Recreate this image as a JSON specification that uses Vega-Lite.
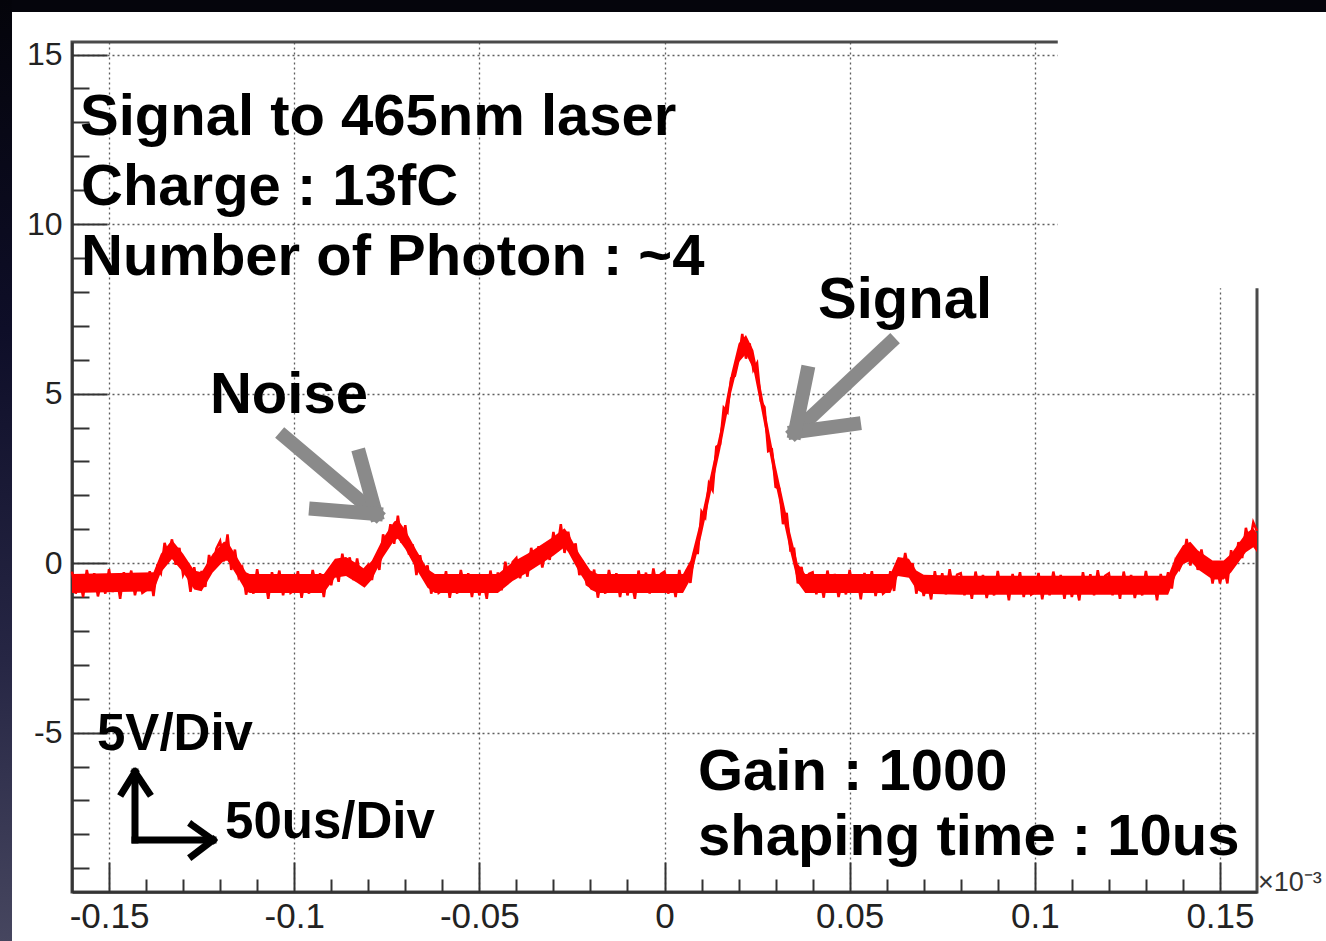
{
  "$schema": "https://vega.github.io/schema/vega-lite/v6.json",
  "width": 1185,
  "height": 850,
  "autosize": {"type": "none"},
  "padding": {"left": 72, "top": 42, "right": 69, "bottom": 49},
  "background": "#ffffff",
  "config": {
    "view": {"stroke": "#4a4a4a", "strokeWidth": 3},
    "text": {"font": "Liberation Sans"}
  },
  "datasets": {
    "wave": [
      {"t":-0.160,"v":-0.25},{"t":-0.159,"v":-0.90},{"t":-0.158,"v":-0.40},{"t":-0.157,"v":-1.00},{"t":-0.156,"v":-0.20},
      {"t":-0.155,"v":-0.75},{"t":-0.154,"v":-0.30},{"t":-0.153,"v":-0.98},{"t":-0.152,"v":-0.50},{"t":-0.151,"v":-0.90},
      {"t":-0.150,"v":-0.18},{"t":-0.149,"v":-0.85},{"t":-0.148,"v":-0.35},{"t":-0.147,"v":-1.05},{"t":-0.146,"v":-0.27},
      {"t":-0.145,"v":-0.70},{"t":-0.144,"v":-0.22},{"t":-0.143,"v":-0.95},{"t":-0.142,"v":-0.45},{"t":-0.141,"v":-0.88},
      {"t":-0.140,"v":-0.80},{"t":-0.139,"v":-0.24},{"t":-0.138,"v":-0.97},{"t":-0.137,"v":-0.12},{"t":-0.136,"v":-0.30},
      {"t":-0.135,"v":0.60},{"t":-0.134,"v":0.23},{"t":-0.133,"v":0.70},{"t":-0.132,"v":-0.05},{"t":-0.131,"v":0.45},
      {"t":-0.130,"v":-0.35},{"t":-0.129,"v":-0.10},{"t":-0.128,"v":-0.85},{"t":-0.127,"v":-0.12},{"t":-0.126,"v":-0.77},
      {"t":-0.125,"v":-0.23},{"t":-0.124,"v":-0.70},{"t":-0.123,"v":0.24},{"t":-0.122,"v":-0.15},{"t":-0.121,"v":0.43},
      {"t":-0.120,"v":0.65},{"t":-0.119,"v":0.05},{"t":-0.118,"v":0.85},{"t":-0.117,"v":-0.20},{"t":-0.116,"v":0.40},
      {"t":-0.115,"v":-0.40},{"t":-0.114,"v":-0.15},{"t":-0.113,"v":-0.93},{"t":-0.112,"v":-0.50},{"t":-0.111,"v":-0.90},
      {"t":-0.110,"v":-0.18},{"t":-0.109,"v":-0.85},{"t":-0.108,"v":-0.35},{"t":-0.107,"v":-1.05},{"t":-0.106,"v":-0.27},
      {"t":-0.105,"v":-0.70},{"t":-0.104,"v":-0.22},{"t":-0.103,"v":-0.95},{"t":-0.102,"v":-0.45},{"t":-0.101,"v":-0.88},
      {"t":-0.100,"v":-0.80},{"t":-0.099,"v":-0.24},{"t":-0.098,"v":-1.02},{"t":-0.097,"v":-0.42},{"t":-0.096,"v":-0.90},
      {"t":-0.095,"v":-0.20},{"t":-0.094,"v":-0.72},{"t":-0.093,"v":-0.30},{"t":-0.092,"v":-1.00},{"t":-0.091,"v":-0.25},
      {"t":-0.090,"v":-0.65},{"t":-0.089,"v":-0.05},{"t":-0.088,"v":-0.55},{"t":-0.087,"v":0.28},{"t":-0.086,"v":-0.32},
      {"t":-0.085,"v":0.17},{"t":-0.084,"v":-0.50},{"t":-0.083,"v":0.14},{"t":-0.082,"v":-0.55},{"t":-0.081,"v":-0.17},
      {"t":-0.080,"v":-0.05},{"t":-0.079,"v":-0.50},{"t":-0.078,"v":0.20},{"t":-0.077,"v":-0.20},{"t":-0.076,"v":0.85},
      {"t":-0.075,"v":0.50},{"t":-0.074,"v":1.15},{"t":-0.073,"v":0.57},{"t":-0.072,"v":1.40},{"t":-0.071,"v":0.60},
      {"t":-0.070,"v":1.12},{"t":-0.069,"v":0.25},{"t":-0.068,"v":0.55},{"t":-0.067,"v":-0.35},{"t":-0.066,"v":0.23},
      {"t":-0.065,"v":-0.40},{"t":-0.064,"v":-0.07},{"t":-0.063,"v":-0.90},{"t":-0.062,"v":-0.45},{"t":-0.061,"v":-0.88},
      {"t":-0.060,"v":-0.80},{"t":-0.059,"v":-0.24},{"t":-0.058,"v":-1.02},{"t":-0.057,"v":-0.42},{"t":-0.056,"v":-0.90},
      {"t":-0.055,"v":-0.20},{"t":-0.054,"v":-0.72},{"t":-0.053,"v":-0.30},{"t":-0.052,"v":-1.00},{"t":-0.051,"v":-0.35},
      {"t":-0.050,"v":-0.95},{"t":-0.049,"v":-0.50},{"t":-0.048,"v":-1.05},{"t":-0.047,"v":-0.22},{"t":-0.046,"v":-0.82},
      {"t":-0.045,"v":-0.28},{"t":-0.044,"v":-0.80},{"t":-0.043,"v":0.04},{"t":-0.042,"v":-0.45},{"t":-0.041,"v":0.03},
      {"t":-0.040,"v":0.15},{"t":-0.039,"v":-0.45},{"t":-0.038,"v":0.10},{"t":-0.037,"v":-0.40},{"t":-0.036,"v":0.45},
      {"t":-0.035,"v":-0.05},{"t":-0.034,"v":0.50},{"t":-0.033,"v":-0.13},{"t":-0.032,"v":0.40},{"t":-0.031,"v":0.10},
      {"t":-0.030,"v":0.92},{"t":-0.029,"v":0.35},{"t":-0.028,"v":1.15},{"t":-0.027,"v":0.30},{"t":-0.026,"v":0.93},
      {"t":-0.025,"v":0.30},{"t":-0.024,"v":0.58},{"t":-0.023,"v":-0.35},{"t":-0.022,"v":-0.05},{"t":-0.021,"v":-0.63},
      {"t":-0.020,"v":-0.70},{"t":-0.019,"v":-0.19},{"t":-0.018,"v":-1.02},{"t":-0.017,"v":-0.42},{"t":-0.016,"v":-0.90},
      {"t":-0.015,"v":-0.20},{"t":-0.014,"v":-0.72},{"t":-0.013,"v":-0.30},{"t":-0.012,"v":-1.00},{"t":-0.011,"v":-0.35},
      {"t":-0.010,"v":-0.95},{"t":-0.009,"v":-0.50},{"t":-0.008,"v":-1.05},{"t":-0.007,"v":-0.22},{"t":-0.006,"v":-0.82},
      {"t":-0.005,"v":-0.28},{"t":-0.004,"v":-0.90},{"t":-0.003,"v":-0.16},{"t":-0.002,"v":-0.75},{"t":-0.001,"v":-0.32},
      {"t":0.000,"v":-0.25},{"t":0.001,"v":-0.90},{"t":0.002,"v":-0.40},{"t":0.003,"v":-1.00},{"t":0.004,"v":-0.20},
      {"t":0.005,"v":-0.75},{"t":0.006,"v":-0.20},{"t":0.007,"v":-0.58},{"t":0.008,"v":0.30},{"t":0.009,"v":0.30},
      {"t":0.010,"v":1.52},{"t":0.011,"v":1.35},{"t":0.012,"v":2.35},{"t":0.013,"v":2.15},{"t":0.014,"v":3.43},
      {"t":0.015,"v":3.50},{"t":0.016,"v":4.58},{"t":0.017,"v":4.45},{"t":0.018,"v":5.45},{"t":0.019,"v":5.52},
      {"t":0.020,"v":6.00},{"t":0.021,"v":6.76},{"t":0.022,"v":6.03},{"t":0.023,"v":6.48},{"t":0.024,"v":5.70},
      {"t":0.025,"v":5.90},{"t":0.026,"v":4.78},{"t":0.027,"v":4.60},{"t":0.028,"v":3.30},{"t":0.029,"v":3.35},
      {"t":0.030,"v":2.25},{"t":0.031,"v":2.20},{"t":0.032,"v":1.15},{"t":0.033,"v":1.48},{"t":0.034,"v":0.38},
      {"t":0.035,"v":0.42},{"t":0.036,"v":-0.60},{"t":0.037,"v":-0.11},{"t":0.038,"v":-0.75},{"t":0.039,"v":-0.32},
      {"t":0.040,"v":-0.27},{"t":0.041,"v":-0.92},{"t":0.042,"v":-0.42},{"t":0.043,"v":-1.02},{"t":0.044,"v":-0.22},
      {"t":0.045,"v":-0.77},{"t":0.046,"v":-0.32},{"t":0.047,"v":-1.00},{"t":0.048,"v":-0.52},{"t":0.049,"v":-0.92},
      {"t":0.050,"v":-0.20},{"t":0.051,"v":-0.87},{"t":0.052,"v":-0.37},{"t":0.053,"v":-1.07},{"t":0.054,"v":-0.29},
      {"t":0.055,"v":-0.72},{"t":0.056,"v":-0.24},{"t":0.057,"v":-0.97},{"t":0.058,"v":-0.47},{"t":0.059,"v":-0.90},
      {"t":0.060,"v":-0.80},{"t":0.061,"v":-0.24},{"t":0.062,"v":-0.82},{"t":0.063,"v":0.08},{"t":0.064,"v":-0.35},
      {"t":0.065,"v":0.30},{"t":0.066,"v":-0.27},{"t":0.067,"v":0.00},{"t":0.068,"v":-0.90},{"t":0.069,"v":-0.37},
      {"t":0.070,"v":-0.97},{"t":0.071,"v":-0.52},{"t":0.072,"v":-1.07},{"t":0.073,"v":-0.24},{"t":0.074,"v":-0.84},
      {"t":0.075,"v":-0.30},{"t":0.076,"v":-0.92},{"t":0.077,"v":-0.18},{"t":0.078,"v":-0.77},{"t":0.079,"v":-0.34},
      {"t":0.080,"v":-0.30},{"t":0.081,"v":-0.95},{"t":0.082,"v":-0.45},{"t":0.083,"v":-1.05},{"t":0.084,"v":-0.25},
      {"t":0.085,"v":-0.80},{"t":0.086,"v":-0.35},{"t":0.087,"v":-1.03},{"t":0.088,"v":-0.55},{"t":0.089,"v":-0.95},
      {"t":0.090,"v":-0.23},{"t":0.091,"v":-0.90},{"t":0.092,"v":-0.40},{"t":0.093,"v":-1.10},{"t":0.094,"v":-0.32},
      {"t":0.095,"v":-0.75},{"t":0.096,"v":-0.27},{"t":0.097,"v":-1.00},{"t":0.098,"v":-0.50},{"t":0.099,"v":-0.93},
      {"t":0.100,"v":-0.85},{"t":0.101,"v":-0.29},{"t":0.102,"v":-1.07},{"t":0.103,"v":-0.47},{"t":0.104,"v":-0.95},
      {"t":0.105,"v":-0.25},{"t":0.106,"v":-0.77},{"t":0.107,"v":-0.35},{"t":0.108,"v":-1.05},{"t":0.109,"v":-0.40},
      {"t":0.110,"v":-1.00},{"t":0.111,"v":-0.55},{"t":0.112,"v":-1.10},{"t":0.113,"v":-0.27},{"t":0.114,"v":-0.87},
      {"t":0.115,"v":-0.33},{"t":0.116,"v":-0.95},{"t":0.117,"v":-0.21},{"t":0.118,"v":-0.80},{"t":0.119,"v":-0.37},
      {"t":0.120,"v":-0.30},{"t":0.121,"v":-0.95},{"t":0.122,"v":-0.45},{"t":0.123,"v":-1.05},{"t":0.124,"v":-0.25},
      {"t":0.125,"v":-0.80},{"t":0.126,"v":-0.35},{"t":0.127,"v":-1.03},{"t":0.128,"v":-0.55},{"t":0.129,"v":-0.95},
      {"t":0.130,"v":-0.23},{"t":0.131,"v":-0.90},{"t":0.132,"v":-0.40},{"t":0.133,"v":-1.10},{"t":0.134,"v":-0.32},
      {"t":0.135,"v":-0.75},{"t":0.136,"v":-0.27},{"t":0.137,"v":-0.75},{"t":0.138,"v":0.05},{"t":0.139,"v":-0.18},
      {"t":0.140,"v":0.05},{"t":0.141,"v":0.71},{"t":0.142,"v":-0.07},{"t":0.143,"v":0.43},{"t":0.144,"v":-0.20},
      {"t":0.145,"v":0.40},{"t":0.146,"v":-0.22},{"t":0.147,"v":0.10},{"t":0.148,"v":-0.60},{"t":0.149,"v":0.00},
      {"t":0.150,"v":-0.60},{"t":0.151,"v":-0.10},{"t":0.152,"v":-0.60},{"t":0.153,"v":0.38},{"t":0.154,"v":-0.07},
      {"t":0.155,"v":0.62},{"t":0.156,"v":0.15},{"t":0.157,"v":1.04},{"t":0.158,"v":0.55},{"t":0.159,"v":1.20},
      {"t":0.160,"v":0.95}
    ],
    "band": [
      {"t":-0.160,"lo":-0.88,"hi":-0.32},{"t":-0.138,"lo":-0.83,"hi":-0.27},{"t":-0.136,"lo":-0.28,"hi":0.28},
      {"t":-0.133,"lo":0.12,"hi":0.68},{"t":-0.130,"lo":-0.28,"hi":0.28},{"t":-0.127,"lo":-0.78,"hi":-0.22},
      {"t":-0.125,"lo":-0.83,"hi":-0.27},{"t":-0.122,"lo":-0.28,"hi":0.28},{"t":-0.119,"lo":0.07,"hi":0.63},
      {"t":-0.118,"lo":0.07,"hi":0.63},{"t":-0.116,"lo":-0.28,"hi":0.28},{"t":-0.113,"lo":-0.83,"hi":-0.27},
      {"t":-0.112,"lo":-0.88,"hi":-0.32},{"t":-0.092,"lo":-0.88,"hi":-0.32},{"t":-0.089,"lo":-0.43,"hi":0.13},
      {"t":-0.086,"lo":-0.38,"hi":0.18},{"t":-0.083,"lo":-0.58,"hi":-0.02},{"t":-0.081,"lo":-0.73,"hi":-0.17},
      {"t":-0.079,"lo":-0.48,"hi":0.08},{"t":-0.076,"lo":0.17,"hi":0.73},{"t":-0.073,"lo":0.67,"hi":1.23},
      {"t":-0.072,"lo":0.72,"hi":1.28},{"t":-0.070,"lo":0.42,"hi":0.98},{"t":-0.067,"lo":-0.18,"hi":0.38},
      {"t":-0.064,"lo":-0.73,"hi":-0.17},{"t":-0.062,"lo":-0.88,"hi":-0.32},{"t":-0.045,"lo":-0.88,"hi":-0.32},
      {"t":-0.041,"lo":-0.53,"hi":0.03},{"t":-0.037,"lo":-0.28,"hi":0.28},{"t":-0.030,"lo":0.22,"hi":0.78},
      {"t":-0.027,"lo":0.47,"hi":1.03},{"t":-0.026,"lo":0.32,"hi":0.88},{"t":-0.023,"lo":-0.28,"hi":0.28},
      {"t":-0.020,"lo":-0.78,"hi":-0.22},{"t":-0.018,"lo":-0.88,"hi":-0.32},{"t":0.005,"lo":-0.88,"hi":-0.32},
      {"t":0.007,"lo":-0.48,"hi":0.08},{"t":0.010,"lo":0.82,"hi":1.38},{"t":0.015,"lo":3.32,"hi":3.88},
      {"t":0.018,"lo":5.02,"hi":5.58},{"t":0.020,"lo":5.92,"hi":6.48},{"t":0.022,"lo":6.17,"hi":6.73},
      {"t":0.024,"lo":5.72,"hi":6.28},{"t":0.026,"lo":4.62,"hi":5.18},{"t":0.030,"lo":2.32,"hi":2.88},
      {"t":0.034,"lo":0.32,"hi":0.88},{"t":0.036,"lo":-0.58,"hi":-0.02},{"t":0.038,"lo":-0.88,"hi":-0.32},
      {"t":0.061,"lo":-0.88,"hi":-0.32},{"t":0.063,"lo":-0.38,"hi":0.18},{"t":0.066,"lo":-0.43,"hi":0.13},
      {"t":0.068,"lo":-0.78,"hi":-0.22},{"t":0.070,"lo":-0.90,"hi":-0.34},{"t":0.080,"lo":-0.93,"hi":-0.37},
      {"t":0.136,"lo":-0.93,"hi":-0.37},{"t":0.138,"lo":-0.38,"hi":0.18},{"t":0.140,"lo":-0.03,"hi":0.53},
      {"t":0.142,"lo":0.07,"hi":0.63},{"t":0.144,"lo":-0.18,"hi":0.38},{"t":0.148,"lo":-0.48,"hi":0.08},
      {"t":0.151,"lo":-0.48,"hi":0.08},{"t":0.153,"lo":-0.28,"hi":0.28},{"t":0.157,"lo":0.32,"hi":0.88},
      {"t":0.159,"lo":0.47,"hi":1.03},{"t":0.160,"lo":0.32,"hi":0.88}
    ],
    "texts": [
      {"x":-0.15784,"y":12.627,"label":"Signal to 465nm laser","g":"big"},
      {"x":-0.15757,"y":10.562,"label":"Charge : 13fC","g":"big"},
      {"x":-0.15757,"y":8.498,"label":"Number of Photon : ~4","g":"big"},
      {"x":-0.12274,"y":4.428,"label":"Noise","g":"big"},
      {"x":0.04145,"y":7.23,"label":"Signal","g":"big"},
      {"x":0.00904,"y":-6.692,"label":"Gain : 1000","g":"big"},
      {"x":0.00904,"y":-8.609,"label":"shaping time : 10us","g":"big"},
      {"x":-0.15325,"y":-5.512,"label":"5V/Div","g":"div"},
      {"x":-0.11868,"y":-8.107,"label":"50us/Div","g":"div"}
    ],
    "gray": [
      {"x":-0.10248,"y":3.720,"x2":-0.07791,"y2":1.449},
      {"x":-0.08223,"y":3.159,"x2":-0.07791,"y2":1.449},
      {"x":-0.09411,"y":1.596,"x2":-0.07791,"y2":1.449},
      {"x":0.06089,"y":6.492,"x2":0.03524,"y2":3.867},
      {"x":0.05117,"y":4.103,"x2":0.03524,"y2":3.867},
      {"x":0.03848,"y":5.607,"x2":0.03524,"y2":3.867}
    ],
    "black": [
      {"x":-0.14299,"y":-8.166,"x2":-0.14299,"y2":-6.161},
      {"x":-0.14299,"y":-8.166,"x2":-0.12192,"y2":-8.166},
      {"x":-0.14650,"y":-6.780,"x2":-0.14299,"y2":-6.161},
      {"x":-0.13921,"y":-6.780,"x2":-0.14299,"y2":-6.161},
      {"x":-0.12760,"y":-7.724,"x2":-0.12192,"y2":-8.166},
      {"x":-0.12760,"y":-8.638,"x2":-0.12192,"y2":-8.166}
    ]
  },
  "layer": [
    {
      "data": {"name": "wave"},
      "mark": {"type": "line", "color": "#ff0000", "strokeWidth": 2.5},
      "encoding": {
        "x": {
          "field": "t", "type": "quantitative",
          "scale": {"domain": [-0.16, 0.16], "nice": false, "zero": false},
          "axis": {
            "title": null,
            "tickCount": 200,
            "values": [-0.15,-0.14,-0.13,-0.12,-0.11,-0.1,-0.09,-0.08,-0.07,-0.06,-0.05,-0.04,-0.03,-0.02,-0.01,0,0.01,0.02,0.03,0.04,0.05,0.06,0.07,0.08,0.09,0.1,0.11,0.12,0.13,0.14,0.15],
            "grid": true,
            "gridColor": "#4d4d4d",
            "gridDash": [2, 3],
            "gridWidth": 1.3,
            "gridOpacity": {"condition": {"test": "indexof([-15,-10,-5,0,5,10,15], round(datum.value*100)) >= 0", "value": 0.9}, "value": 0},
            "ticks": true,
            "tickSize": {"condition": {"test": "indexof([-15,-10,-5,0,5,10,15], round(datum.value*100)) >= 0", "value": -30}, "value": -13},
            "tickColor": "#333333",
            "tickWidth": 2,
            "domainColor": "#333333",
            "domainWidth": 2.5,
            "labelExpr": "indexof([-15,-10,-5,0,5,10,15], round(datum.value*100)) >= 0 ? (datum.value < 0 ? '-' : '') + format(abs(datum.value), '~g') : ''",
            "labelFont": "Liberation Sans",
            "labelFontSize": 35,
            "labelColor": "#222222",
            "labelPadding": 37,
            "labelFlush": false,
            "labelOverlap": false,
            "labelBound": false
          }
        },
        "y": {
          "field": "v", "type": "quantitative",
          "scale": {"domain": [-9.7, 15.37], "nice": false, "zero": false},
          "axis": {
            "title": null,
            "tickCount": 200,
            "values": [-9,-8,-7,-6,-5,-4,-3,-2,-1,0,1,2,3,4,5,6,7,8,9,10,11,12,13,14,15],
            "grid": true,
            "gridColor": "#4d4d4d",
            "gridDash": [2, 3],
            "gridWidth": 1.3,
            "gridOpacity": {"condition": {"test": "indexof([-5,0,5,10,15], round(datum.value)) >= 0", "value": 0.9}, "value": 0},
            "ticks": true,
            "tickSize": {"condition": {"test": "indexof([-5,0,5,10,15], round(datum.value)) >= 0", "value": -35}, "value": -17},
            "tickColor": "#333333",
            "tickWidth": 2,
            "domainColor": "#333333",
            "domainWidth": 2.5,
            "labelExpr": "indexof([-5,0,5,10,15], round(datum.value)) >= 0 ? (datum.value < 0 ? '-' : '') + format(abs(datum.value), 'd') : ''",
            "labelFont": "Liberation Sans",
            "labelFontSize": 32,
            "labelColor": "#222222",
            "labelPadding": 45,
            "labelFlush": false,
            "labelOverlap": false,
            "labelBound": false
          }
        }
      }
    },
    {
      "data": {"name": "band"},
      "mark": {"type": "area", "color": "#ff0000", "opacity": 1},
      "encoding": {
        "x": {"field": "t", "type": "quantitative"},
        "y": {"field": "lo", "type": "quantitative"},
        "y2": {"field": "hi"}
      }
    },
    {
      "data": {"values": [{"x":0.1062,"x2":0.1790,"y":8.11,"y2":16.26}]},
      "mark": {"type": "rect", "color": "#ffffff", "clip": false},
      "encoding": {
        "x": {"field": "x", "type": "quantitative"},
        "x2": {"field": "x2"},
        "y": {"field": "y", "type": "quantitative"},
        "y2": {"field": "y2"}
      }
    },
    {
      "data": {"values": [{"x":-0.1800,"x2":0.1790,"y":16.62,"y2":16.255}]},
      "mark": {"type": "rect", "color": "#05050c", "clip": false},
      "encoding": {
        "x": {"field": "x", "type": "quantitative"},
        "x2": {"field": "x2"},
        "y": {"field": "y", "type": "quantitative"},
        "y2": {"field": "y2"}
      }
    },
    {
      "data": {"values": [{"x":-0.1800,"x2":-0.17620,"y":16.62,"y2":-11.2}]},
      "mark": {
        "type": "rect", "clip": false,
        "fill": {"gradient": "linear", "x1": 0, "y1": 0, "x2": 0, "y2": 1,
          "stops": [
            {"offset": 0, "color": "#04040a"},
            {"offset": 0.35, "color": "#0e0e28"},
            {"offset": 0.7, "color": "#262644"},
            {"offset": 1, "color": "#46465f"}
          ]}
      },
      "encoding": {
        "x": {"field": "x", "type": "quantitative"},
        "x2": {"field": "x2"},
        "y": {"field": "y", "type": "quantitative"},
        "y2": {"field": "y2"}
      }
    },
    {
      "data": {"name": "gray"},
      "mark": {"type": "rule", "color": "#8a8a8a", "strokeWidth": 14, "strokeCap": "square"},
      "encoding": {
        "x": {"field": "x", "type": "quantitative"},
        "y": {"field": "y", "type": "quantitative"},
        "x2": {"field": "x2"},
        "y2": {"field": "y2"}
      }
    },
    {
      "data": {"name": "black"},
      "mark": {"type": "rule", "color": "#000000", "strokeWidth": 7, "strokeCap": "square"},
      "encoding": {
        "x": {"field": "x", "type": "quantitative"},
        "y": {"field": "y", "type": "quantitative"},
        "x2": {"field": "x2"},
        "y2": {"field": "y2"}
      }
    },
    {
      "data": {"name": "texts"},
      "transform": [{"filter": "datum.g == 'big'"}],
      "mark": {"type": "text", "align": "left", "baseline": "alphabetic", "font": "Liberation Sans", "fontWeight": "bold", "fontSize": 58, "color": "#000000"},
      "encoding": {
        "x": {"field": "x", "type": "quantitative"},
        "y": {"field": "y", "type": "quantitative"},
        "text": {"field": "label"}
      }
    },
    {
      "data": {"name": "texts"},
      "transform": [{"filter": "datum.g == 'div'"}],
      "mark": {"type": "text", "align": "left", "baseline": "alphabetic", "font": "Liberation Sans", "fontWeight": "bold", "fontSize": 51, "color": "#000000"},
      "encoding": {
        "x": {"field": "x", "type": "quantitative"},
        "y": {"field": "y", "type": "quantitative"},
        "text": {"field": "label"}
      }
    },
    {
      "data": {"values": [{"x":0.16027,"y":-9.671,"label":"×10⁻³"}]},
      "mark": {"type": "text", "align": "left", "baseline": "alphabetic", "font": "Liberation Sans", "fontSize": 27, "color": "#333333", "clip": false},
      "encoding": {
        "x": {"field": "x", "type": "quantitative"},
        "y": {"field": "y", "type": "quantitative"},
        "text": {"field": "label"}
      }
    }
  ]
}
